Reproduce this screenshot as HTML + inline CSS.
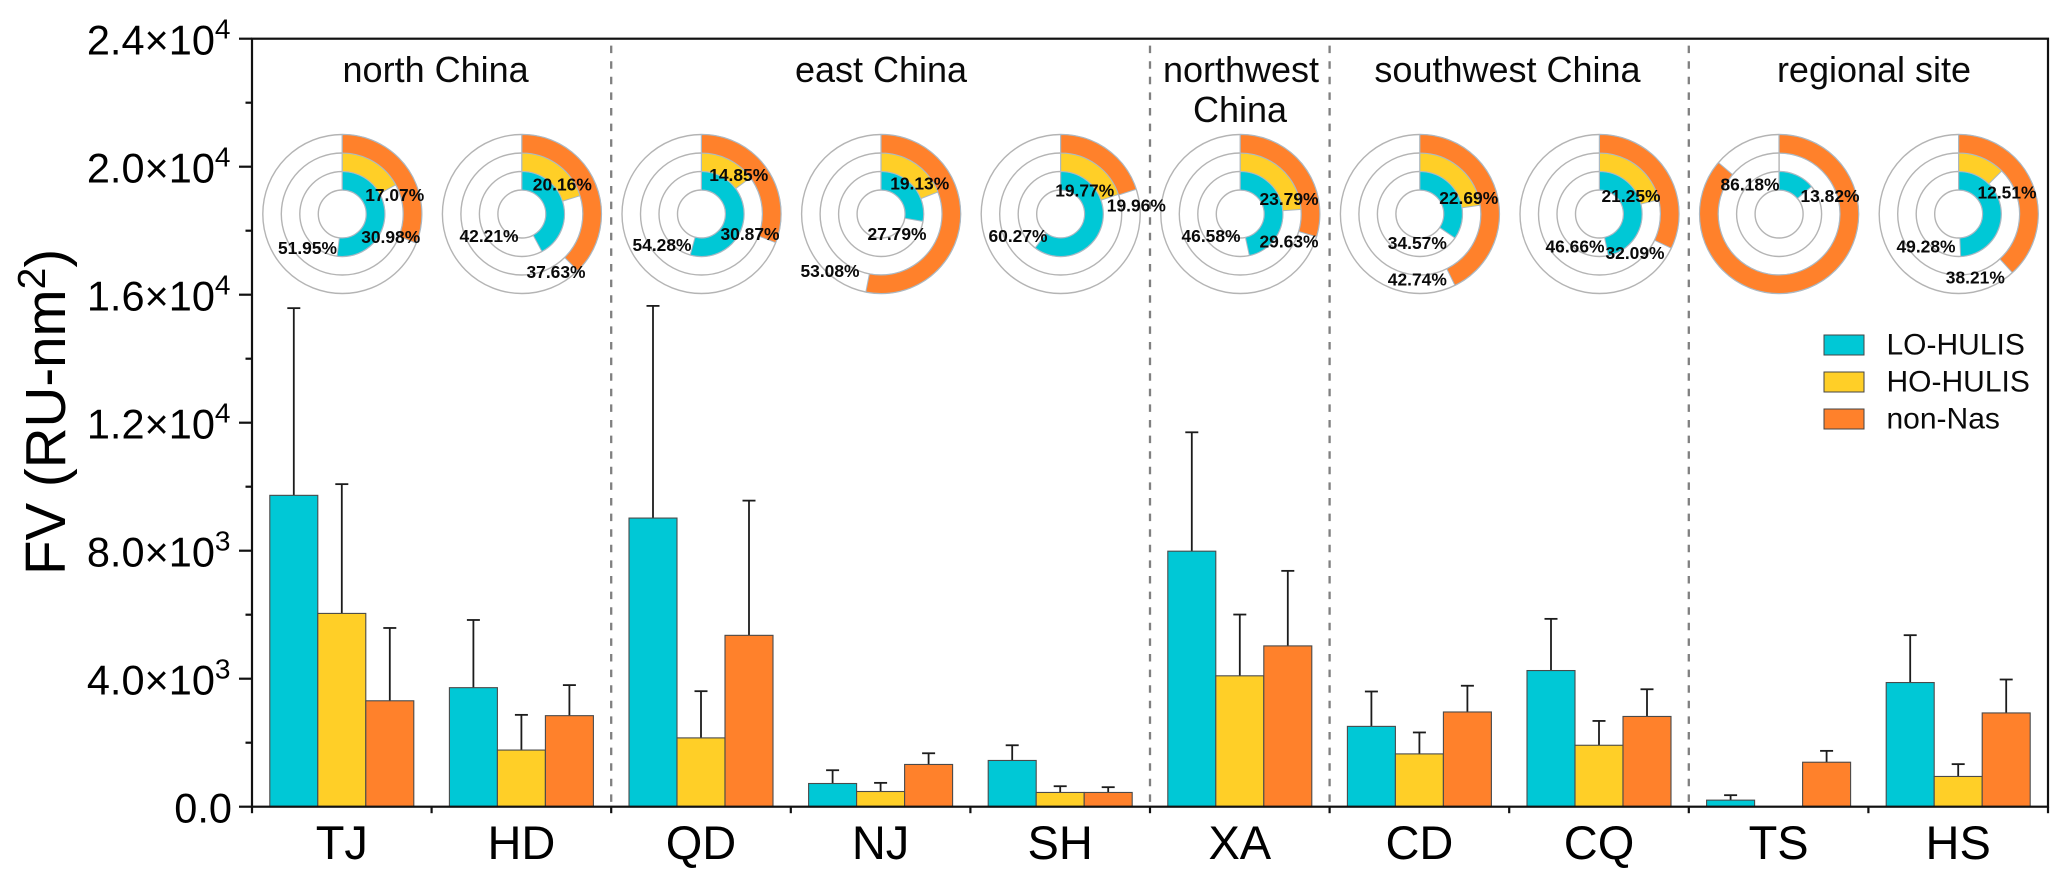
<!DOCTYPE html>
<html lang="en">
<head>
<meta charset="utf-8">
<title>FV by site</title>
<style>
html,body{margin:0;padding:0;background:#fff;}
#chart{display:block;width:2067px;height:880px;}
text{font-family:"Liberation Sans",Arial,sans-serif;fill:#000;}
.pct{font-size:17.4px;font-weight:bold;text-anchor:middle;fill:#0a0a0a;}
.region{font-size:36px;text-anchor:middle;fill:#0a0a0a;}
.legend-text{font-size:30px;fill:#0a0a0a;}
</style>
</head>
<body>
<svg id="chart" xmlns="http://www.w3.org/2000/svg" width="2067" height="880" viewBox="0 0 2067 880">
  <rect x="0" y="0" width="2067" height="880" fill="#fff"></rect>
  <g id="separators"></g>
  <g id="pies"></g>
  <g id="bars"></g>
  <g id="axes"></g>

  <text transform="translate(65,575) rotate(-90)" font-size="56.5">FV (RU-nm<tspan dy="-20" font-size="39">2</tspan><tspan dy="20">)</tspan></text>

  <g>
    <text class="region" x="435.6" y="82">north China</text>
    <text class="region" x="881" y="82">east China</text>
    <text class="region" x="1241" y="82">northwest</text>
    <text class="region" x="1240" y="122">China</text>
    <text class="region" x="1507.5" y="82">southwest China</text>
    <text class="region" x="1874" y="82">regional site</text>
  </g>

  <g>
    <text class="pct" x="394.7" y="201">17.07%</text>
    <text class="pct" x="390.7" y="243">30.98%</text>
    <text class="pct" x="307.5" y="254">51.95%</text>
    <text class="pct" x="562.3" y="190.3">20.16%</text>
    <text class="pct" x="489" y="242">42.21%</text>
    <text class="pct" x="556" y="278">37.63%</text>
    <text class="pct" x="738.7" y="181">14.85%</text>
    <text class="pct" x="662" y="251">54.28%</text>
    <text class="pct" x="750" y="240">30.87%</text>
    <text class="pct" x="919.7" y="189.3">19.13%</text>
    <text class="pct" x="897" y="240">27.79%</text>
    <text class="pct" x="830" y="277">53.08%</text>
    <text class="pct" x="1084.7" y="196.7">19.77%</text>
    <text class="pct" x="1136.3" y="211.7">19.96%</text>
    <text class="pct" x="1018" y="242">60.27%</text>
    <text class="pct" x="1289" y="205">23.79%</text>
    <text class="pct" x="1289" y="247.3">29.63%</text>
    <text class="pct" x="1211" y="242">46.58%</text>
    <text class="pct" x="1468.7" y="204">22.69%</text>
    <text class="pct" x="1417.3" y="249">34.57%</text>
    <text class="pct" x="1417.3" y="285.7">42.74%</text>
    <text class="pct" x="1631" y="202">21.25%</text>
    <text class="pct" x="1575" y="252.7">46.66%</text>
    <text class="pct" x="1635" y="259">32.09%</text>
    <text class="pct" x="1750" y="190.7">86.18%</text>
    <text class="pct" x="1830" y="202">13.82%</text>
    <text class="pct" x="2007" y="198.3">12.51%</text>
    <text class="pct" x="1926" y="252.3">49.28%</text>
    <text class="pct" x="1975.3" y="283.7">38.21%</text>
  </g>

  <g>
    <g>
      <rect x="1824" y="335" width="40" height="20" fill="#00C8D6" stroke="#444" stroke-width="1"></rect>
      <text class="legend-text" x="1886.5" y="354.7">LO-HULIS</text>
    </g>
    <g>
      <rect x="1824" y="372" width="40" height="20" fill="#FFCF27" stroke="#444" stroke-width="1"></rect>
      <text class="legend-text" x="1886.5" y="391.7">HO-HULIS</text>
    </g>
    <g>
      <rect x="1824" y="409" width="40" height="20" fill="#FF812B" stroke="#444" stroke-width="1"></rect>
      <text class="legend-text" x="1886.5" y="428.7">non-Nas</text>
    </g>
  </g>
</svg>

<script>
// Chart data
const categories = ['TJ','HD','QD','NJ','SH','XA','CD','CQ','TS','HS'];
const loValues  = [9730,3720,9020,725,1445,7985,2510,4255,205,3880];
const hoValues  = [6040,1770,2150,475,445,4090,1650,1920,0,945];
const nonValues = [3310,2845,5355,1320,445,5025,2960,2820,1390,2930];
const loUpper   = [15580,5835,15650,1140,1920,11700,3600,5870,360,5360];
const hoUpper   = [10080,2870,3610,745,640,6005,2320,2680,0,1330];
const nonUpper  = [5585,3800,9565,1670,610,7370,3780,3670,1745,3975];
const loPercent  = [51.95,42.21,54.28,27.79,60.27,46.58,34.57,46.66,13.82,49.28];
const hoPercent  = [17.07,20.16,14.85,19.13,19.77,23.79,22.69,21.25,0,12.51];
const nonPercent = [30.98,37.63,30.87,53.08,19.96,29.63,42.74,32.09,86.18,38.21];
const yTicks = [0,4000,8000,12000,16000,20000,24000];
const yMinorTicks = [2000,6000,10000,14000,18000,22000];
const yTickLabels = ['0.0','4.0×10','8.0×10','1.2×10','1.6×10','2.0×10','2.4×10'];
const yTickExponents = ['','3','3','4','4','4','4'];
const separatorBoundaries = [2,5,6,8];

const SVG_NS = 'http://www.w3.org/2000/svg';
const plotLeft = 252, plotRight = 2048, plotTop = 38.7, plotBottom = 806.7;
const yMax = 24000;
const bandWidth = (plotRight - plotLeft) / categories.length;
const barWidth = 48;

function yScale(v){ return plotBottom - (v / yMax) * (plotBottom - plotTop); }
function bandEdge(i){ return plotLeft + i * bandWidth; }
function xCenter(i){ return bandEdge(i) + bandWidth / 2; }

function make(tag, parent, attrs){
  const el = document.createElementNS(SVG_NS, tag);
  for (const k in attrs) el.setAttribute(k, attrs[k]);
  parent.appendChild(el);
  return el;
}

// Separators
const sepGroup = document.getElementById('separators');
separatorBoundaries.forEach(function(b){
  const el = make('line', sepGroup, {x1:bandEdge(b), x2:bandEdge(b), y1:plotTop, y2:plotBottom, stroke:'#808080', 'stroke-width':2.3, 'stroke-dasharray':'7.5 8.1', 'stroke-dashoffset':8.7});
  
  
});

// Ring charts
const ringRadii = [24,42.5,61,79.5];
const pieColors = ['#00C8D6','#FFCF27','#FF812B'];
const pieY = 214;
function pieX(i){ return xCenter(i) + 0.5; }
function wedgePath(cx, cy, r0, r1, pct){
  const a = pct / 100 * 2 * Math.PI;
  const large = pct > 50 ? 1 : 0;
  const sx = Math.sin(a), cxa = Math.cos(a);
  return 'M' + cx + ' ' + (cy - r1) +
    'A' + r1 + ' ' + r1 + ' 0 ' + large + ' 1 ' + (cx + r1 * sx) + ' ' + (cy - r1 * cxa) +
    'L' + (cx + r0 * sx) + ' ' + (cy - r0 * cxa) +
    'A' + r0 + ' ' + r0 + ' 0 ' + large + ' 0 ' + cx + ' ' + (cy - r0) + 'Z';
}
const pieGroup = document.getElementById('pies');
categories.forEach(function(cat, i){
  const g = make('g', pieGroup, {});
  
  
  const cx = pieX(i);
  ringRadii.forEach(function(r){
    const c = make('circle', g, {cx:cx, cy:pieY, r:r, fill:'none', stroke:'#b4b4b4', 'stroke-width':1.4});
    
    
  });
  const spoke = make('line', g, {x1:cx, x2:cx, y1:pieY - ringRadii[3], y2:pieY - ringRadii[0], stroke:'#b4b4b4', 'stroke-width':1.4});
  
  
  [loPercent[i], hoPercent[i], nonPercent[i]].forEach(function(p, k){
    if (p <= 0) return;
    const w = make('path', g, {d:wedgePath(cx, pieY, ringRadii[k], ringRadii[k + 1], p), fill:pieColors[k], stroke:'#a9b9c6', 'stroke-width':1});
    
    
  });
});

// Bars
const barGroup = document.getElementById('bars');
const seriesValues = [loValues, hoValues, nonValues];
const seriesUpper = [loUpper, hoUpper, nonUpper];
const barColors = ['#00C8D6','#FFCF27','#FF812B'];
categories.forEach(function(cat, i){
  seriesValues.forEach(function(vals, k){
    const v = vals[i];
    if (v <= 0) return;
    const left = xCenter(i) + (k - 1.5) * barWidth;
    const mid = left + barWidth / 2;
    const top = yScale(v);
    const upY = yScale(seriesUpper[k][i]);
    const stem = make('line', barGroup, {x1:mid, x2:mid, y1:top, y2:upY, stroke:'#1c1c1c', 'stroke-width':1.8});
    
    
    const cap = make('line', barGroup, {x1:mid - 6.5, x2:mid + 6.5, y1:upY, y2:upY, stroke:'#1c1c1c', 'stroke-width':1.8});
    
    
    const bar = make('rect', barGroup, {x:left, y:top, width:barWidth, height:yScale(0) - top, fill:barColors[k], stroke:'#4a4a4a', 'stroke-width':1.1});
    
    
  });
});

// Axes
const axes = document.getElementById('axes');
const axisFrame = make('rect', axes, {x:plotLeft, y:plotTop, width:plotRight - plotLeft, height:plotBottom - plotTop, fill:'none', stroke:'#111', 'stroke-width':2.2});


yTicks.forEach(function(t, i){
  const y = yScale(t);
  const tick = make('line', axes, {x1:plotLeft - 13, x2:plotLeft, y1:y, y2:y, stroke:'#111', 'stroke-width':2.2});
  
  
  const label = make('text', axes, {x:i === 0 ? 232 : 230.5, y:y + 15.7, 'font-size':41.5, 'text-anchor':'end', fill:'#0a0a0a'});
  
  
  label.appendChild(document.createTextNode(yTickLabels[i]));
  if (yTickExponents[i]) {
    const sup = make('tspan', label, {dy:-16, 'font-size':28});
    
    
    sup.textContent = yTickExponents[i];
  }
});
yMinorTicks.forEach(function(t){
  const y = yScale(t);
  const tick = make('line', axes, {x1:plotLeft - 6.5, x2:plotLeft, y1:y, y2:y, stroke:'#111', 'stroke-width':2.2});
  
  
});
for (let i = 0; i <= categories.length; i++) {
  const x = bandEdge(i);
  const tick = make('line', axes, {x1:x, x2:x, y1:plotBottom, y2:plotBottom + 6.5, stroke:'#111', 'stroke-width':2.2});
  
  
}
categories.forEach(function(cat, i){
  const label = make('text', axes, {x:xCenter(i), y:859, 'font-size':47, 'text-anchor':'middle', fill:'#0a0a0a'});
  
  
  label.textContent = cat;
});
</script>
</body>
</html>
